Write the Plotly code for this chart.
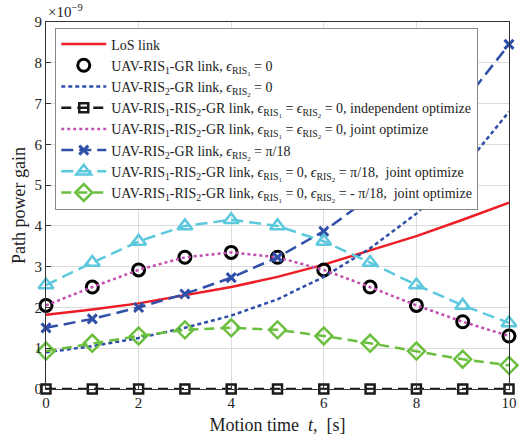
import plotly.graph_objects as go

t = [0, 1, 2, 3, 4, 5, 6, 7, 8, 9, 10]
los = [1.82, 1.95, 2.1, 2.3, 2.5, 2.75, 3.05, 3.4, 3.75, 4.15, 4.57]
ris1 = [2.05, 2.5, 2.92, 3.23, 3.35, 3.23, 2.92, 2.5, 2.05, 1.65, 1.3]
ris2 = [0.9, 1.05, 1.25, 1.5, 1.8, 2.2, 2.75, 3.45, 4.3, 5.4, 6.8]
indep = [0, 0, 0, 0, 0, 0, 0, 0, 0, 0, 0]
joint = [2.05, 2.5, 2.92, 3.23, 3.35, 3.23, 2.92, 2.5, 2.05, 1.65, 1.3]
ris2_pi = [1.5, 1.72, 2.0, 2.33, 2.73, 3.23, 3.87, 4.7, 5.75, 7.0, 8.45]
joint_pos = [2.55, 3.1, 3.62, 4.0, 4.15, 4.0, 3.62, 3.1, 2.55, 2.05, 1.62]
joint_neg = [0.93, 1.12, 1.3, 1.45, 1.5, 1.45, 1.3, 1.12, 0.93, 0.73, 0.58]
xticks = [0, 2, 4, 6, 8, 10]
yticks = [0, 1, 2, 3, 4, 5, 6, 7, 8, 9]

eps = "<i>ϵ</i>"
R1 = eps + "<sub>RIS<sub>1</sub></sub>"
R2 = eps + "<sub>RIS<sub>2</sub></sub>"
names = [
    "LoS link",
    "UAV-RIS<sub>1</sub>-GR link, " + R1 + " = 0",
    "UAV-RIS<sub>2</sub>-GR link, " + R2 + " = 0",
    "UAV-RIS<sub>1</sub>-RIS<sub>2</sub>-GR link, " + R1 + " = " + R2 + " = 0, independent optimize",
    "UAV-RIS<sub>1</sub>-RIS<sub>2</sub>-GR link, " + R1 + " = " + R2 + " = 0, joint optimize",
    "UAV-RIS<sub>2</sub>-GR link, " + R2 + " = π/18",
    "UAV-RIS<sub>1</sub>-RIS<sub>2</sub>-GR link, " + R1 + " = 0, " + R2 + " = π/18,  joint optimize",
    "UAV-RIS<sub>1</sub>-RIS<sub>2</sub>-GR link, " + R1 + " = 0, " + R2 + " = - π/18,  joint optimize",
]

fig = go.Figure()
fig.add_trace(go.Scatter(x=t, y=los, mode="lines", name=names[0],
                         line=dict(color="#EE1C25", width=2.5)))
fig.add_trace(go.Scatter(x=t, y=ris1, mode="markers", name=names[1],
                         marker=dict(symbol="circle-open", size=12, color="black",
                                     line=dict(width=3, color="black"))))
fig.add_trace(go.Scatter(x=t, y=ris2, mode="lines", name=names[2],
                         line=dict(color="#2F4FA8", width=2.5, dash="4px,3px")))
fig.add_trace(go.Scatter(x=t, y=indep, mode="lines+markers", name=names[3],
                         line=dict(color="#1a1a1a", width=2.5, dash="10px,6px"),
                         marker=dict(symbol="square-open", size=9, color="#1a1a1a",
                                     line=dict(width=2.5, color="#1a1a1a"))))
fig.add_trace(go.Scatter(x=t, y=joint, mode="lines", name=names[4],
                         line=dict(color="#C04FB0", width=2.5, dash="dot")))
fig.add_trace(go.Scatter(x=t, y=ris2_pi, mode="lines+markers", name=names[5],
                         line=dict(color="#2F4FA8", width=2.5, dash="12px,6px"),
                         marker=dict(symbol="x-thin-open", size=9, color="#2F4FA8",
                                     line=dict(width=3, color="#2F4FA8"))))
fig.add_trace(go.Scatter(x=t, y=joint_pos, mode="lines+markers", name=names[6],
                         line=dict(color="#5BC8DE", width=2.5, dash="12px,6px"),
                         marker=dict(symbol="triangle-up-open", size=13, color="#5BC8DE",
                                     line=dict(width=2.5, color="#5BC8DE"))))
fig.add_trace(go.Scatter(x=t, y=joint_neg, mode="lines+markers", name=names[7],
                         line=dict(color="#6BBF3F", width=2.5, dash="10px,6px"),
                         marker=dict(symbol="diamond-open", size=13, color="#6BBF3F",
                                     line=dict(width=2.5, color="#6BBF3F"))))
fig.update_traces(cliponaxis=False)

axis_common = dict(showline=True, linecolor="#333", linewidth=1, mirror=True,
                   ticks="inside", ticklen=5, tickcolor="#333",
                   showgrid=True, gridcolor="#DCDCDC", gridwidth=1, zeroline=False,
                   tickfont=dict(family="Liberation Serif", size=15, color="#222"))

fig.update_layout(
    width=529, height=444,
    margin=dict(l=46, r=14, t=22, b=47),
    paper_bgcolor="white", plot_bgcolor="white",
    font=dict(family="Liberation Serif", color="#222"),
    xaxis=dict(range=[0, 10], tickvals=xticks,
               title=dict(text="Motion time  <i>t</i>,  [s]", standoff=8,
                          font=dict(family="Liberation Serif", size=18)),
               **axis_common),
    yaxis=dict(range=[0, 9], tickvals=yticks,
               title=dict(text="Path power gain", standoff=4,
                          font=dict(family="Liberation Serif", size=18)),
               **axis_common),
    legend=dict(x=0.02, y=0.985, xanchor="left", yanchor="top",
                bgcolor="white", bordercolor="#888", borderwidth=1,
                font=dict(family="Liberation Serif", size=14, color="#222"),
                itemwidth=45, tracegroupgap=0),
    showlegend=True,
)
fig.add_annotation(text="×10<sup>−9</sup>", xref="paper", yref="paper",
                   x=0.0, y=1.0, xanchor="left", yanchor="bottom", showarrow=False,
                   font=dict(family="Liberation Serif", size=15, color="#222"))

fig.write_html("out.html")
